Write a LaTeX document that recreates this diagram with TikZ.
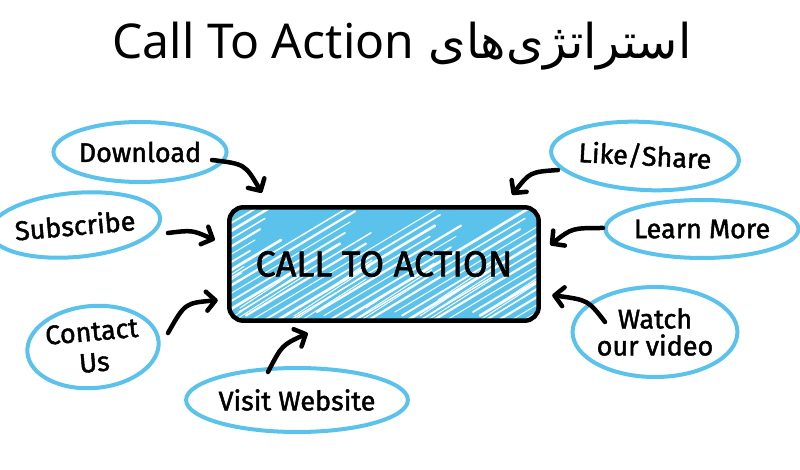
\documentclass[tikz,border=0pt]{standalone}
\usepackage{fontspec}
\usetikzlibrary{shapes.geometric,arrows.meta}
\TeXXeTstate=1
\newfontfamily\arabicfont[Script=Arabic]{DejaVu Sans}
\newfontfamily\latinfont{Noto Sans}
\newfontfamily\handfont[FakeBold=1.6]{Fira Sans}
\definecolor{skyb}{HTML}{5BC3EB}
\begin{document}
\begin{tikzpicture}[x=1pt,y=-1pt,
  bubble/.style={ellipse,draw=skyb,line width=4pt,inner sep=0pt,align=center,
    font=\handfont\fontsize{27}{31}\selectfont},
  arr/.style={line width=4.5pt,line cap=round,line join=round,
    -{Straight Barb[length=9pt,width=19pt,line cap=round,round]}},
  ctabox/.style={fill=skyb,rounded corners=14pt,
    minimum width=309pt,minimum height=113pt,inner sep=0pt},
  ctatext/.style={font=\handfont\fontsize{36}{36}\selectfont,text=black},
  hatch/.style={white,line cap=round}
]
\useasboundingbox (0,0) rectangle (800,470);
\fill[white] (0,0) rectangle (800,470);

\node (title) at (402,46) {\fontsize{48}{56}\selectfont\beginR{\arabicfont استراتژی‌های} \beginL{\latinfont Call To Action}\endL\endR};

\node[ctabox] (box) at (384,264) {};
\begin{scope}
  \clip[rounded corners=14pt] (box.south west) rectangle (box.north east);
  \foreach \i in {0,...,42}{
    \pgfmathsetmacro{\w}{1.0+0.4*mod(\i*7,5)}
    \pgfmathsetmacro{\s}{mod(\i*11,6)*6}
    \pgfmathsetmacro{\l}{120+mod(\i*13,7)*12}
    \draw[hatch,line width=\w pt] (\i*13+40+\s,330-\s*0.6) -- ++(\l,-\l*0.6);
  }
  \foreach \i in {0,...,30}{
    \pgfmathsetmacro{\s}{mod(\i*5,7)*8}
    \draw[hatch,line width=1pt] (\i*18+60,300+\s) -- ++(60+\s,-40-\s*0.6);
  }
\end{scope}
\draw[line width=4.5pt,rounded corners=14pt] (box.south west) rectangle (box.north east);
\node[ctatext] (boxtext) at (box.center) {CALL TO ACTION};

\node[bubble,minimum width=144pt,minimum height=60pt] (dl) at (140,152) {Download};
\node[bubble,minimum width=150pt,minimum height=64pt,rotate=5] (sub) at (75,225) {Subscribe};
\node[bubble,minimum width=126pt,minimum height=82pt,rotate=5] (ct) at (93,347) {Contact\\Us};
\node[bubble,minimum width=220pt,minimum height=64pt] (vw) at (297,400) {Visit Website};
\node[bubble,minimum width=174pt,minimum height=68pt,rotate=-3] (ls) at (645,156) {Like/Share};
\node[bubble,minimum width=190pt,minimum height=58pt] (lm) at (702,229) {Learn More};
\node[bubble,minimum width=154pt,minimum height=90pt,font=\handfont\fontsize{27}{27}\selectfont] (wv) at (655,332) {Watch\\our video};

\draw[arr] ([shift={(72,8)}]dl.center) .. controls (245,164) .. ([shift={(32.5,-14.5)}]box.north west);
\draw[arr] ([shift={(93,8)}]sub.center) .. controls (192,230) .. ([shift={(-14.5,-24)}]box.west);
\draw[arr] ([shift={(75,-14)}]ct.center) .. controls (185,303) .. ([shift={(-11.5,-20.5)}]box.south west);
\draw[arr] ([shift={(-29,-28)}]vw.center) .. controls (282,345) .. ([shift={(78.5,12.5)}]box.south west);
\draw[arr] ([shift={(-87,14)}]ls.center) .. controls (530,172) .. ([shift={(-26.5,-12.5)}]box.north east);
\draw[arr] ([shift={(-99,-1)}]lm.center) .. controls (572,228) .. ([shift={(11.5,-19)}]box.east);
\draw[arr] ([shift={(-50,-10)}]wv.center) .. controls (588,300) .. ([shift={(13.5,-25.5)}]box.south east);
\end{tikzpicture}
\end{document}
